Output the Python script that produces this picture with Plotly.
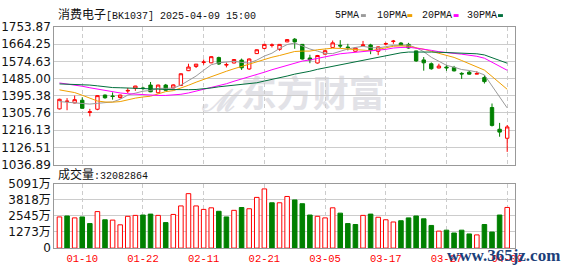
import plotly.graph_objects as go

# ---------------- data ----------------
dates = [
    "2025-01-07", "2025-01-08", "2025-01-09", "2025-01-10", "2025-01-13", "2025-01-14", "2025-01-15",
    "2025-01-16", "2025-01-17", "2025-01-20", "2025-01-21", "2025-01-22", "2025-01-23", "2025-01-24",
    "2025-01-27", "2025-02-05", "2025-02-06", "2025-02-07", "2025-02-10", "2025-02-11", "2025-02-12",
    "2025-02-13", "2025-02-14", "2025-02-17", "2025-02-18", "2025-02-19", "2025-02-20", "2025-02-21",
    "2025-02-24", "2025-02-25", "2025-02-26", "2025-02-27", "2025-02-28", "2025-03-03", "2025-03-04",
    "2025-03-05", "2025-03-06", "2025-03-07", "2025-03-10", "2025-03-11", "2025-03-12", "2025-03-13",
    "2025-03-14", "2025-03-17", "2025-03-18", "2025-03-19", "2025-03-20", "2025-03-21", "2025-03-24",
    "2025-03-25", "2025-03-26", "2025-03-27", "2025-03-28", "2025-03-31", "2025-04-01", "2025-04-02",
    "2025-04-03", "2025-04-07", "2025-04-08", "2025-04-09",
]

open_ = [1327, 1366, 1358, 1372, 1308, 1325, 1399, 1394, 1386, 1420,
         1434, 1436, 1451, 1411, 1451, 1436, 1449, 1526, 1548, 1569,
         1567, 1594, 1555, 1566, 1581, 1535, 1615, 1642, 1658, 1637,
         1676, 1690, 1663, 1592, 1566, 1612, 1647, 1658, 1649, 1627,
         1657, 1660, 1627, 1665, 1678, 1670, 1663, 1629, 1582, 1562,
         1540, 1545, 1543, 1512, 1518, 1508, 1490, 1334, 1221, 1174]
high = [1380, 1383, 1396, 1387, 1327, 1398, 1402, 1413, 1401, 1436,
        1447, 1442, 1467, 1453, 1457, 1455, 1512, 1562, 1561, 1584,
        1601, 1599, 1568, 1586, 1589, 1590, 1637, 1665, 1668, 1665,
        1690, 1696, 1665, 1609, 1608, 1633, 1683, 1685, 1666, 1646,
        1681, 1666, 1652, 1673, 1686, 1675, 1671, 1630, 1597, 1569,
        1562, 1556, 1551, 1518, 1525, 1523, 1503, 1355, 1254, 1243]
low = [1324, 1320, 1356, 1328, 1288, 1320, 1380, 1375, 1380, 1409,
       1421, 1426, 1414, 1408, 1422, 1434, 1446, 1524, 1540, 1557,
       1565, 1556, 1543, 1564, 1530, 1530, 1613, 1638, 1647, 1630,
       1674, 1640, 1584, 1565, 1563, 1610, 1645, 1644, 1632, 1625,
       1655, 1612, 1607, 1658, 1666, 1655, 1641, 1572, 1526, 1531,
       1538, 1525, 1522, 1483, 1505, 1507, 1459, 1235, 1182, 1103]
close = [1377, 1367, 1375, 1330, 1312, 1396, 1385, 1392, 1399, 1423,
         1446, 1433, 1416, 1451, 1424, 1452, 1510, 1545, 1560, 1571,
         1599, 1561, 1558, 1584, 1541, 1587, 1635, 1663, 1660, 1663,
         1688, 1676, 1587, 1582, 1605, 1630, 1671, 1655, 1646, 1644,
         1660, 1634, 1650, 1667, 1680, 1658, 1644, 1577, 1567, 1536,
         1550, 1541, 1525, 1509, 1508, 1511, 1469, 1241, 1206, 1233]

# volume in 万 (10k)
volume_wan = [2459, 2533, 2384, 2459, 1937, 2880, 2235, 2210, 1838, 2508,
              2582, 2608, 2682, 2582, 2012, 2657, 3327, 4296, 3327, 3054,
              3178, 2905, 2459, 2980, 3203, 3104, 4000, 4669, 3576, 3576,
              4073, 3800, 3502, 2608, 2508, 2384, 3178, 2757, 1937, 1862,
              2582, 2682, 2433, 2235, 2061, 2160, 2384, 2533, 2310, 1788,
              1341, 1416, 1192, 1416, 1118, 1043, 1862, 1267, 2608, 3208]

ma5 = [1365, 1362, 1358, 1355, 1352, 1356, 1360, 1363, 1377, 1399,
       1409, 1419, 1423, 1434, 1434, 1435, 1451, 1476, 1498, 1528,
       1557, 1567, 1570, 1575, 1569, 1566, 1581, 1602, 1617, 1642,
       1662, 1670, 1655, 1639, 1628, 1616, 1615, 1629, 1639, 1647,
       1653, 1646, 1645, 1651, 1658, 1658, 1660, 1645, 1625, 1596,
       1575, 1554, 1544, 1532, 1527, 1519, 1504, 1448, 1387, 1332]
ma10 = [1426, 1419, 1412, 1398, 1382, 1368, 1363, 1362, 1365, 1376,
        1383, 1389, 1393, 1405, 1417, 1422, 1435, 1450, 1466, 1481,
        1496, 1509, 1523, 1536, 1548, 1562, 1574, 1586, 1596, 1605,
        1614, 1626, 1628, 1628, 1635, 1639, 1643, 1642, 1639, 1637,
        1635, 1630, 1637, 1645, 1653, 1655, 1653, 1645, 1638, 1627,
        1616, 1607, 1595, 1579, 1562, 1547, 1529, 1496, 1460, 1429]
ma20 = [1462, 1457, 1452, 1445, 1437, 1430, 1422, 1415, 1410, 1406,
        1403, 1400, 1398, 1397, 1397, 1399, 1403, 1410, 1419, 1428,
        1439, 1449, 1458, 1471, 1482, 1492, 1504, 1518, 1531, 1543,
        1555, 1567, 1576, 1582, 1591, 1600, 1608, 1614, 1618, 1621,
        1624, 1628, 1633, 1637, 1644, 1647, 1648, 1643, 1639, 1632,
        1625, 1619, 1616, 1612, 1607, 1601, 1591, 1570, 1549, 1528]
ma30 = [1457, 1456, 1454, 1452, 1451, 1447, 1442, 1438, 1437, 1436,
        1436, 1434, 1432, 1430, 1428, 1427, 1427, 1427, 1428, 1431,
        1436, 1442, 1446, 1449, 1452, 1456, 1463, 1472, 1480, 1487,
        1498, 1508, 1515, 1523, 1533, 1541, 1550, 1559, 1567, 1574,
        1582, 1588, 1596, 1603, 1612, 1619, 1623, 1624, 1624, 1623,
        1622, 1621, 1620, 1617, 1616, 1614, 1608, 1594, 1579, 1565]

price_ticks = [1036.89, 1126.51, 1216.13, 1305.76, 1395.38, 1485.00, 1574.63, 1664.25, 1753.87]
vol_ticks = [0, 1273, 2545, 3818, 5091]
x_tick_dates = ["2025-01-10", "2025-01-22", "2025-02-11", "2025-02-21",
                "2025-03-05", "2025-03-17", "2025-03-27", "2025-04-09"]
x_tick_labels = ["01-10", "01-22", "02-11", "02-21", "03-05", "03-17", "03-27", "04-09"]
ma_names = ["5PMA", "10PMA", "20PMA", "30PMA"]
board_name = "消费电子"
board_code = "[BK1037]"
stamp = "2025-04-09 15:00"
volume_title = "成交量"
last_volume = 32082864

# ---------------- styling / layout ----------------
W, H = 578, 276
RED = "#ff0000"
GREEN = "#008000"
MA_COLORS = ["#9a9a9a", "#f0a000", "#ff00ff", "#006f3c"]
GRID = "#cccccc"
FRAME = "#999999"
MONO = "Liberation Mono, Noto Sans CJK SC"
CJK = "Noto Sans CJK SC"


def px(x):
    return x / W


def py(y):
    return 1 - y / H


fig = go.Figure()

for name, vals, col in zip(ma_names, [ma5, ma10, ma20, ma30], MA_COLORS):
    fig.add_trace(go.Scatter(x=dates, y=vals, mode="lines", name=name,
                             line=dict(color=col, width=1), hoverinfo="skip",
                             showlegend=False, xaxis="x", yaxis="y"))

fig.add_trace(go.Candlestick(
    x=dates, open=open_, high=high, low=low, close=close,
    increasing=dict(line=dict(color=RED, width=1), fillcolor="#ffffff"),
    decreasing=dict(line=dict(color=GREEN, width=1), fillcolor=GREEN),
    whiskerwidth=0, hoverinfo="skip", showlegend=False, xaxis="x", yaxis="y"))

vol_up = [close[i] >= (close[i - 1] if i > 0 else open_[i]) for i in range(len(close))]
fig.add_trace(go.Bar(
    x=dates, y=volume_wan, width=0.6,
    marker=dict(color=["#ffffff" if u else GREEN for u in vol_up],
                line=dict(color=[RED if u else GREEN for u in vol_up], width=1)),
    hoverinfo="skip", showlegend=False, xaxis="x2", yaxis="y2"))

xr = [-0.69, 60.0]
xdom = [px(55), px(522)]
common_x = dict(type="category", range=xr, domain=xdom, showline=True, mirror=True,
                linecolor=FRAME, linewidth=1, showgrid=True, gridcolor=GRID,
                griddash="4px,3px", gridwidth=1, tickvals=x_tick_dates, ticks="",
                fixedrange=True)

fig.update_layout(
    width=W, height=H, autosize=False,
    margin=dict(l=0, r=0, t=0, b=0, pad=0),
    paper_bgcolor="#ffffff", plot_bgcolor="#ffffff",
    boxgap=0.36,
    bargap=0.3,
    xaxis=dict(**common_x, anchor="y", showticklabels=False,
               rangeslider=dict(visible=False)),
    xaxis2=dict(**common_x, anchor="y2", matches="x", showticklabels=True,
                ticktext=x_tick_labels,
                tickfont=dict(family=MONO, size=10.5, color=RED)),
    yaxis=dict(domain=[py(166), py(21)], range=[price_ticks[0], price_ticks[-1]],
               tickvals=price_ticks, ticktext=[f"{v:.2f}" for v in price_ticks],
               showline=True, mirror=True, linecolor=FRAME, linewidth=1,
               showgrid=True, gridcolor=GRID, zeroline=False, ticks="",
               tickfont=dict(family="DejaVu Sans", size=12, color="#111111"),
               fixedrange=True),
    yaxis2=dict(domain=[py(254), py(186)], range=[0, vol_ticks[-1]],
                tickvals=vol_ticks,
                ticktext=[f"{v}万" if v else "0" for v in vol_ticks],
                showline=True, mirror=True, linecolor=FRAME, linewidth=1,
                showgrid=True, gridcolor=GRID, zeroline=False, ticks="",
                tickfont=dict(family="DejaVu Sans, Noto Sans CJK SC", size=12, color="#111111"),
                fixedrange=True),
    showlegend=False,
)

# watermark behind the candles
fig.add_shape(type="rect", xref="paper", yref="paper",
              x0=px(238), x1=px(390), y0=py(114), y1=py(76),
              line=dict(width=0), fillcolor="rgba(0,0,0,0)", layer="below",
              label=dict(text="<b>东方财富</b>", font=dict(family=CJK, size=36, color="#e2e2e7"),
                         textposition="middle left"))
fig.add_shape(type="rect", xref="paper", yref="paper",
              x0=px(205), x1=px(240), y0=py(112), y1=py(80),
              line=dict(width=0), fillcolor="rgba(0,0,0,0)", layer="below",
              label=dict(text="<b><i>ℳ</i></b>", font=dict(family="DejaVu Serif", size=30, color="#e2e2e7"),
                         textposition="middle center"))

annos = []
# title
annos.append(dict(x=px(57), y=py(8.5), xref="paper", yref="paper", xanchor="left",
                  yanchor="middle", showarrow=False,
                  text=f'<span style="font-size:12px">{board_name}</span>{board_code} {stamp}',
                  font=dict(family=MONO, size=10, color="#111111")))
# volume title
annos.append(dict(x=px(57), y=py(177), xref="paper", yref="paper", xanchor="left",
                  yanchor="middle", showarrow=False,
                  text=f'<span style="font-size:12px">{volume_title}</span>:{last_volume}',
                  font=dict(family=MONO, size=10, color="#111111")))
# legend
leg_text_x = [338, 380, 426, 472]
leg_sq_x = [366, 413, 460, 505]
for name, col, tx, sx in zip(ma_names, MA_COLORS, leg_text_x, leg_sq_x):
    annos.append(dict(x=px(tx), y=py(9), xref="paper", yref="paper", xanchor="left",
                      yanchor="middle", showarrow=False, text=name,
                      font=dict(family=MONO, size=10, color="#111111")))
    fig.add_shape(type="rect", xref="paper", yref="paper",
                  x0=px(sx), x1=px(sx + 5), y0=py(10.5), y1=py(7.5),
                  line=dict(width=0), fillcolor=col)
# site watermark
annos.append(dict(x=px(570), y=py(262), xref="paper", yref="paper", xanchor="right",
                  yanchor="middle", showarrow=False, text="<b>www.365jz.com</b>",
                  font=dict(family="Liberation Serif", size=17, color="#1c3f7a")))
fig.update_layout(annotations=annos)

fig.write_html("out.html", config=dict(displayModeBar=False, staticPlot=True))
